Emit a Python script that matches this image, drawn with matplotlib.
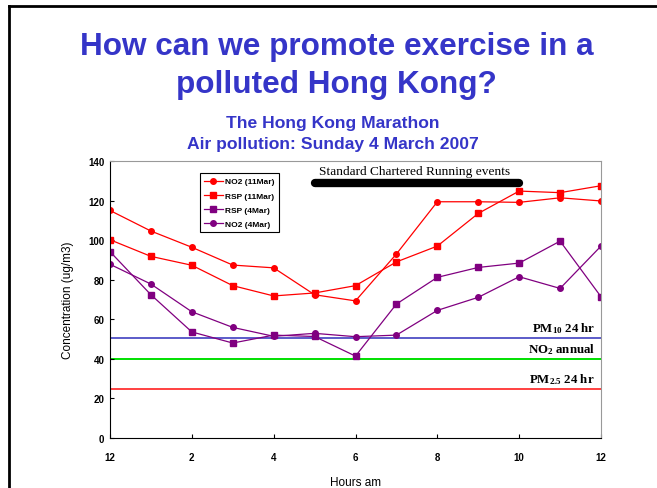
import matplotlib
matplotlib.use("Agg")
import matplotlib.pyplot as plt
from matplotlib.lines import Line2D

plt.rcParams["mathtext.fontset"] = "custom"
plt.rcParams["mathtext.rm"] = "Liberation Serif:bold"
plt.rcParams["mathtext.it"] = "Liberation Serif:bold"
plt.rcParams["mathtext.bf"] = "Liberation Serif:bold"

# hourly readings, midnight to noon
hours = list(range(13))
hour_ticks = [0, 2, 4, 6, 8, 10, 12]
hour_labels = ["12", "2", "4", "6", "8", "10", "12"]

no2_11mar = [115, 104.6, 96.4, 87.4, 86, 72.4, 69.3, 93, 119.4, 119.4, 119.1, 121.4, 119.8]
rsp_11mar = [100.2, 91.8, 87.3, 77, 71.8, 73.3, 77, 89, 97, 113.5, 124.8, 124, 127.5]
rsp_4mar = [94.2, 72.4, 53.6, 48, 52, 51.3, 41.4, 67.7, 81.2, 86.2, 88.4, 99.5, 71.4]
no2_4mar = [87.8, 77.8, 63.8, 55.9, 51.4, 52.9, 51.2, 52, 64.5, 71.1, 81.5, 75.6, 97]

# air quality guideline levels
pm10_24hr = 50.7
no2_annual = 40
pm25_24hr = 25

# race window
race_start, race_end = 5, 10
race_level = 128.7

title_blue = "#3535C8"
purple = "#800080"

fig = plt.figure(figsize=(6.57, 4.89), dpi=100)

# slide frame (top and left edges)
fig.add_artist(Line2D([9 / 657, 1], [1 - 7 / 489, 1 - 7 / 489], color="black", lw=2))
fig.add_artist(Line2D([9 / 657, 9 / 657], [0, 1 - 7 / 489], color="black", lw=2))

fig.text(0.513, 1 - 47 / 489, "How can we promote exercise in a", ha="center", va="center",
         fontsize=22.7, fontweight="bold", color=title_blue, family="Liberation Sans")
fig.text(0.512, 1 - 85 / 489, "polluted Hong Kong?", ha="center", va="center",
         fontsize=22.7, fontweight="bold", color=title_blue, family="Liberation Sans")
fig.text(0.506, 1 - 124 / 489, "The Hong Kong Marathon", ha="center", va="center",
         fontsize=12.6, fontweight="bold", color=title_blue, family="Liberation Sans")
fig.text(0.506, 1 - 144 / 489, "Air pollution: Sunday 4 March 2007", ha="center", va="center",
         fontsize=12.6, fontweight="bold", color=title_blue, family="Liberation Sans")

ax = fig.add_axes([110 / 657, 1 - 439 / 489, 491 / 657, 277 / 489])

ax.axhline(pm10_24hr, color="#4040C0", lw=1.2, zorder=1)
ax.axhline(no2_annual, color="#00E000", lw=1.4, zorder=1)
ax.axhline(pm25_24hr, color="#FF2020", lw=1.2, zorder=1)

ax.plot(hours, no2_11mar, color="red", marker="o", ms=4, lw=0.9, label="NO2 (11Mar)")
ax.plot(hours, rsp_11mar, color="red", marker="s", ms=4.5, lw=0.9, label="RSP (11Mar)")
ax.plot(hours, rsp_4mar, color=purple, marker="s", ms=4.5, lw=0.9, label="RSP (4Mar)")
ax.plot(hours, no2_4mar, color=purple, marker="o", ms=4, lw=0.9, label="NO2 (4Mar)")

ax.plot([race_start, race_end], [race_level, race_level], color="black", lw=6,
        solid_capstyle="round")
ax.text((race_start + race_end) / 2 - 0.05, race_level + 3.0, "Standard Chartered Running events",
        ha="center", va="bottom", fontsize=9.6, family="Liberation Serif")

serif_bold = dict(ha="right", va="bottom", fontsize=9.3, fontweight="bold", family="Liberation Serif")
ax.text(11.85, pm10_24hr + 1.5, r"PM$_{10}$ 24 hr", **serif_bold)
ax.text(11.85, no2_annual + 1.5, r"NO$_2$ annual", **serif_bold)
ax.text(11.85, pm25_24hr + 1.5, r"PM$_{2.5}$ 24 hr", **serif_bold)

ax.set_xlim(0, 12)
ax.set_ylim(0, 140)
ax.set_xticks(hour_ticks)
ax.set_xticklabels(hour_labels)
ax.set_yticks(range(0, 141, 20))
ax.tick_params(direction="in", length=3, width=0.8, labelsize=7, pad=10)
ax.tick_params(axis="y", pad=4)
for lab in ax.get_xticklabels() + ax.get_yticklabels():
    lab.set_fontweight("bold")
    lab.set_family("Liberation Sans")

ax.spines["left"].set_color("black")
ax.spines["bottom"].set_color("black")
ax.spines["top"].set_color("#999999")
ax.spines["right"].set_color("#999999")

ax.set_ylabel("Concentration (ug/m3)", fontsize=8.5, family="Liberation Sans", labelpad=10)
ax.set_xlabel("Hours am", fontsize=8.5, family="Liberation Sans", labelpad=10)

leg = ax.legend(loc="upper left", bbox_to_anchor=(0.175, 0.97),
                prop={"weight": "bold", "family": "Liberation Sans", "size": 6},
                fancybox=False, edgecolor="black", framealpha=1, handlelength=2.2,
                labelspacing=0.75, borderpad=0.5, handletextpad=0.3)
leg.get_frame().set_linewidth(0.8)

fig.savefig("out.png", dpi=100)
